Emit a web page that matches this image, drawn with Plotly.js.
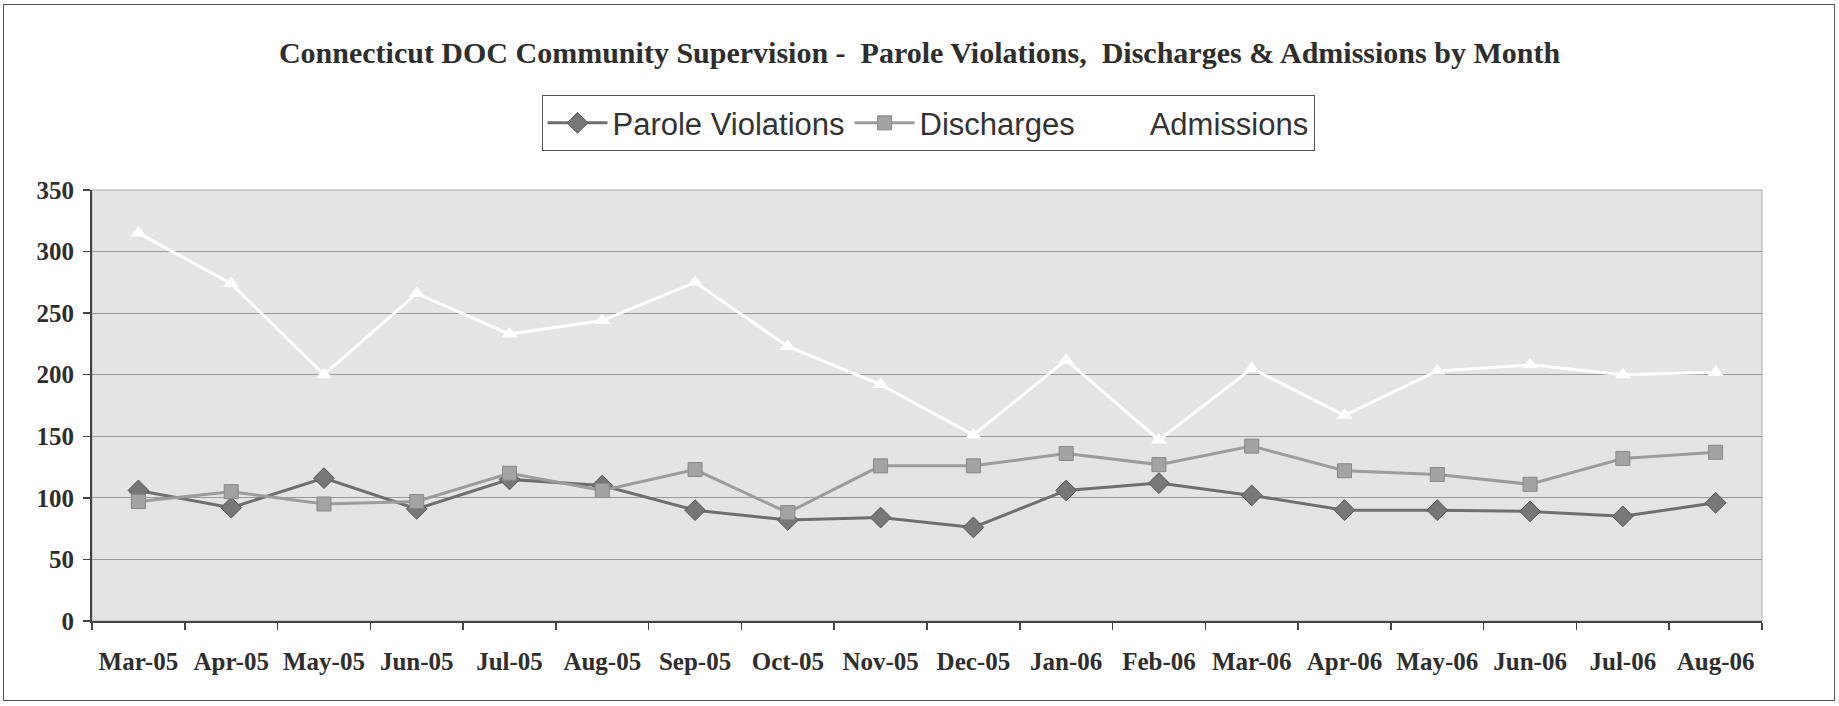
<!DOCTYPE html>
<html>
<head>
<meta charset="utf-8">
<script src="https://cdn.plot.ly/plotly-3.0.1.min.js"></script>
<style>
  html, body { margin: 0; padding: 0; background: #ffffff; }
  #wrap { position: relative; width: 1839px; height: 706px; }
  #chart { width: 1839px; height: 706px; }
  #frame { position: absolute; left: 3px; top: 4px; width: 1830px; height: 695px;
           border: 1.5px solid #555; pointer-events: none; }
</style>
</head>
<body>
<div id="wrap">
  <div id="chart"></div>
  <div id="frame"></div>
</div>
<script>
const months = ["Mar-05","Apr-05","May-05","Jun-05","Jul-05","Aug-05","Sep-05","Oct-05","Nov-05",
                "Dec-05","Jan-06","Feb-06","Mar-06","Apr-06","May-06","Jun-06","Jul-06","Aug-06"];
const paroleViolations = [106, 92, 116, 91, 115, 110, 90, 82, 84, 76, 106, 112, 102, 90, 90, 89, 85, 96];
const discharges       = [97, 105, 95, 97, 120, 106, 123, 88, 126, 126, 136, 127, 142, 122, 119, 111, 132, 137];
const admissions       = [315, 274, 200, 266, 233, 244, 275, 223, 192, 151, 212, 147, 205, 167, 203, 208, 200, 202];
const yTicks = [0, 50, 100, 150, 200, 250, 300, 350];

const serif = "'Liberation Serif', 'Times New Roman', serif";
const sans = "'Liberation Sans', Arial, sans-serif";

const traces = [
  {
    name: "Parole Violations", x: months, y: paroleViolations, type: "scatter", mode: "lines+markers",
    line: { color: "#6f6f6f", width: 3 },
    marker: { symbol: "diamond", size: 16, color: "#777777", line: { color: "#555555", width: 1 } }
  },
  {
    name: "Discharges", x: months, y: discharges, type: "scatter", mode: "lines+markers",
    line: { color: "#9c9c9c", width: 3 },
    marker: { symbol: "square", size: 14, color: "#a3a3a3", line: { color: "#878787", width: 1 } }
  },
  {
    name: "Admissions", x: months, y: admissions, type: "scatter", mode: "lines+markers",
    line: { color: "#ffffff", width: 3 },
    marker: { symbol: "triangle-up", size: 14, color: "#ffffff" }
  }
];

const layout = {
  width: 1839, height: 706,
  margin: { l: 92, r: 77, t: 190, b: 85 },
  paper_bgcolor: "#ffffff",
  plot_bgcolor: "#e4e4e4",
  title: {
    text: "Connecticut DOC Community Supervision -\u00a0 Parole Violations,\u00a0 Discharges & Admissions by Month",
    font: { family: serif, size: 30, color: "#2e2e2e", weight: "bold" },
    x: 0.5, xanchor: "center", y: 0.925, yanchor: "middle"
  },
  showlegend: true,
  legend: {
    orientation: "h", x: 0.5006, xanchor: "center", y: 1.155, yanchor: "middle",
    bgcolor: "#ffffff", bordercolor: "#555555", borderwidth: 1,
    font: { family: sans, size: 31, color: "#333333" },
    itemwidth: 60, tracegroupgap: 0
  },
  xaxis: {
    type: "category", categoryorder: "array", categoryarray: months,
    range: [-0.5, months.length - 0.5], autorange: false,
    tickson: "boundaries", ticks: "outside", ticklen: 7, tickcolor: "#444", tickwidth: 1.5,
    showgrid: false, showline: true, linecolor: "#444", linewidth: 2,
    tickfont: { family: serif, size: 25, color: "#2e2e2e", weight: "bold" },
    ticklabelstandoff: 17, fixedrange: true
  },
  yaxis: {
    range: [0, 350], autorange: false, tickvals: yTicks, ticktext: yTicks.map(String),
    ticks: "outside", ticklen: 7, tickcolor: "#444", tickwidth: 1.5,
    showgrid: true, gridcolor: "#9a9a9a", gridwidth: 1, zeroline: false,
    showline: true, linecolor: "#444", linewidth: 2,
    tickfont: { family: serif, size: 25, color: "#2e2e2e", weight: "bold" },
    ticklabelstandoff: 4, fixedrange: true
  },
  shapes: [
    { type: "rect", xref: "paper", yref: "paper", x0: 0, x1: 1, y0: 0, y1: 1,
      line: { color: "#aaaaaa", width: 1 }, layer: "below" }
  ]
};

Plotly.newPlot("chart", traces, layout, { displayModeBar: false, staticPlot: true });
</script>
</body>
</html>
